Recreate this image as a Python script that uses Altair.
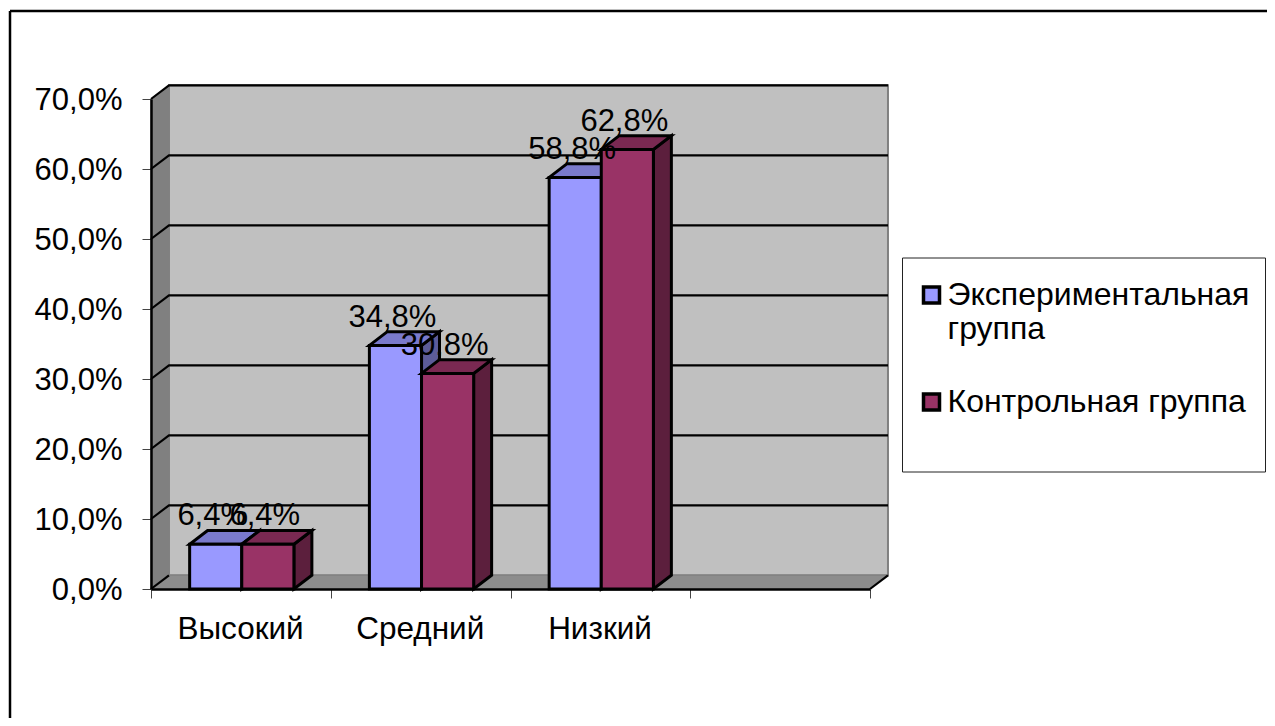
import altair as alt
import pandas as pd

categories = ["Высокий", "Средний", "Низкий"]
groups = ["Экспериментальная группа", "Контрольная группа"]
exp_values = [6.4, 34.8, 58.8]
ctrl_values = [6.4, 30.8, 62.8]
y_ticks = [0, 10, 20, 30, 40, 50, 60, 70]
x_ticks = [0, 1, 2, 3, 4]

FONT = "Liberation Sans"
FS = 31
front = ["#9999FF", "#993366"]
top_c = ["#7A7ACC", "#7A2952"]
side_c = ["#5C5C99", "#5C1F3D"]
DX, DY = 0.1, 1.96      # depth of the 3D box in data units
XMAX, YMAX = 4, 70
W, H = 719, 490
LEFT, TOP = 143, 91
SW, SH = 1259, 710

x_scale = alt.Scale(domain=[0, XMAX], nice=False, zero=False)
y_scale = alt.Scale(domain=[0, YMAX], nice=False)
xq = lambda f="x": alt.X(f"{f}:Q", scale=x_scale, title=None)
yq = lambda f="y": alt.Y(f"{f}:Q", scale=y_scale, title=None)

names_js = "[" + ",".join(f"'{c}'" for c in categories) + ",''][datum.value]"
x_axis = alt.Axis(values=x_ticks, labelExpr=names_js, labelOffset=89, labelFont=FONT,
                  labelFontSize=31.5, labelColor="black", labelPadding=15, tickSize=9,
                  tickColor="#444444", tickWidth=1, domainColor="black", domainWidth=2.5,
                  grid=False, labelOverlap=False, labelFlush=False, labelAngle=0,
                  title=None, zindex=1)
y_axis = alt.Axis(values=y_ticks, labelExpr="replace(format(datum.value,'.1f'),'.',',')+'%'",
                  labelFont=FONT, labelFontSize=FS, labelColor="black", labelPadding=20,
                  labelOffset=1.5, tickSize=9, tickColor="#444444", tickWidth=1, domainColor="black",
                  domainWidth=2.5, grid=False, title=None, labelOverlap=False, zindex=1)

# walls
back = alt.Chart(pd.DataFrame({"x": [DX], "x2": [XMAX + DX], "y": [DY], "y2": [YMAX + DY]})).mark_rect(
    fill="#C0C0C0", stroke="#808080", strokeWidth=2
).encode(x=alt.X("x:Q", scale=x_scale, axis=x_axis, title=None), x2="x2:Q",
         y=alt.Y("y:Q", scale=y_scale, axis=y_axis, title=None), y2="y2:Q")

left_wall = alt.Chart(pd.DataFrame({"x": [0, DX], "y": [0, DY], "y2": [YMAX, YMAX + DY]})).mark_area(
    fill="#808080", stroke="#808080", strokeWidth=1
).encode(x=xq(), y=yq(), y2="y2:Q")

floor = alt.Chart(pd.DataFrame({"y": [0, DY], "x": [0, DX], "x2": [XMAX, XMAX + DX]})).mark_area(
    orient="horizontal", fill="#8C8C8C", stroke="#808080", strokeWidth=1
).encode(y=yq(), x=xq(), x2="x2:Q")

# grid: front-left edge to back wall, then across it
grid_rows = []
for v in y_ticks:
    if v == 0:
        continue
    grid_rows += [{"v": v, "o": 0, "x": 0, "y": v}, {"v": v, "o": 1, "x": DX, "y": v + DY},
                  {"v": v, "o": 2, "x": XMAX + DX, "y": v + DY}]
grid_rows += [{"v": -1, "o": 0, "x": 0, "y": 0}, {"v": -1, "o": 1, "x": DX, "y": DY},
              {"v": -2, "o": 0, "x": XMAX, "y": 0}, {"v": -2, "o": 1, "x": XMAX + DX, "y": DY}]
grid = alt.Chart(pd.DataFrame(grid_rows)).mark_line(color="black", strokeWidth=2.2).encode(
    x=xq(), y=yq(), detail="v:N", order="o:Q")

# bars
BAR_L, BAR_W = 0.215, 0.29
BW = 3
bar_layers = []
label_rows = []
for gi, (g, vals) in enumerate(zip(groups, [exp_values, ctrl_values])):
    rows, side_rows, top_rows = [], [], []
    for ci, v in enumerate(vals):
        l = ci + BAR_L + gi * BAR_W
        r = l + BAR_W
        rows.append({"group": g, "x": l, "x2": r, "y": v, "y2": 0})
        side_rows += [{"c": ci, "x": r, "y": v, "y2": 0}, {"c": ci, "x": r + DX, "y": v + DY, "y2": DY}]
        top_rows += [{"c": ci, "y": v, "x": l, "x2": r}, {"c": ci, "y": v + DY, "x": l + DX, "x2": r + DX}]
        label_rows.append({"x": (l + r) / 2, "y": v + DY, "label": f"{v:.1f}".replace(".", ",") + "%"})
    side = alt.Chart(pd.DataFrame(side_rows)).mark_area(
        fill=side_c[gi], stroke="black", strokeWidth=BW, strokeJoin="miter"
    ).encode(x=xq(), y=yq(), y2="y2:Q", detail="c:N")
    topf = alt.Chart(pd.DataFrame(top_rows)).mark_area(
        orient="horizontal", fill=top_c[gi], stroke="black", strokeWidth=BW, strokeJoin="miter"
    ).encode(y=yq(), x=xq(), x2="x2:Q", detail="c:N")
    fr = alt.Chart(pd.DataFrame(rows)).mark_bar(stroke="black", strokeWidth=BW, strokeJoin="miter").encode(
        x=xq(), x2="x2:Q", y=yq(), y2="y2:Q",
        color=alt.Color("group:N", scale=alt.Scale(domain=groups, range=front), sort=groups,
                        legend=alt.Legend(
                            orient="none", legendX=764.5, legendY=180, title=None, padding=0,
                            labelFont=FONT, labelFontSize=32, labelColor="black", labelLimit=400,
                            labelExpr="datum.label == '" + groups[0] + "' ? ['Экспериментальная', 'группа'] : datum.label",
                            symbolType="square", symbolSize=256, symbolStrokeColor="black",
                            symbolStrokeWidth=3.5, symbolOpacity=1, labelOffset=0, rowPadding=41, zindex=1)))
    bar_layers += [side, topf, fr]

labels = alt.Chart(pd.DataFrame(label_rows)).mark_text(
    font=FONT, fontSize=FS, color="black", baseline="alphabetic", dy=-5, dx=-3
).encode(x=xq(), y=yq(), text="label:N")

one = pd.DataFrame({"a": [0]})
legend_box = alt.Chart(one).mark_rect(fill="white", stroke="#222222", strokeWidth=1).encode(
    x=alt.value(751.5), x2=alt.value(1114.5), y=alt.value(159), y2=alt.value(373))
frame_top = alt.Chart(one).mark_rule(color="black", strokeWidth=2.5).encode(
    x=alt.value(-141), x2=alt.value(SW - LEFT), y=alt.value(-88))
frame_left = alt.Chart(one).mark_rule(color="black", strokeWidth=2.5).encode(
    x=alt.value(-141), y=alt.value(-88), y2=alt.value(SH - TOP))

chart = alt.layer(back, left_wall, floor, grid, *bar_layers, labels, legend_box, frame_top, frame_left).properties(
    width=W, height=H, autosize="none",
    padding={"left": LEFT, "top": TOP, "right": SW - LEFT - W, "bottom": SH - TOP - H},
).configure_view(stroke=None)

chart.save("out.html", embed_options={"renderer": "svg", "actions": False})
